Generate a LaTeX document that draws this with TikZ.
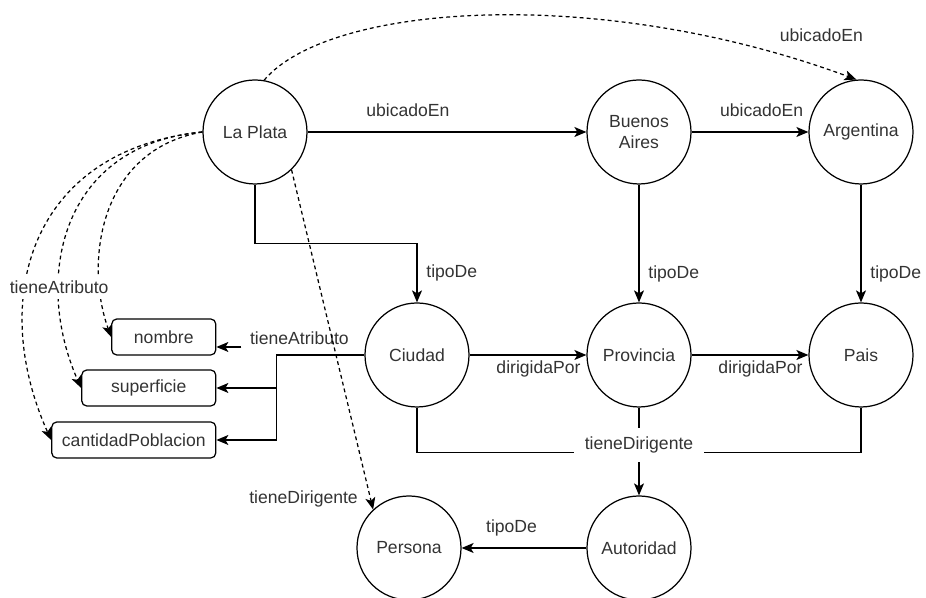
\documentclass[tikz,border=0pt]{standalone}
\usepackage{fontspec}
\setmainfont{Liberation Sans}
\usepackage{tikz}
\usetikzlibrary{shapes.geometric, arrows.meta, positioning}
\tikzstyle{concept} = [circle, draw, line width=0.7pt, minimum size=2.08cm, inner sep=0pt, align=center, text=black!80]
\tikzstyle{attrbox} = [rectangle, draw, rounded corners=1mm, line width=0.7pt, minimum height=0.72cm, text=black!80]
\tikzstyle{lbl} = [text=black!80, inner sep=3pt]
\tikzstyle{arrow} = [line width=0.7pt,-{Stealth[length=2.4mm,width=2mm,inset=0.6mm]}]
\tikzstyle{dasharrow} = [arrow, dash pattern=on 2.2pt off 1.8pt]

\begin{document}
\begin{tikzpicture}[node distance=4.46cm, font=\fontsize{10}{12}\selectfont]
\useasboundingbox (0,0) rectangle (18.52,11.96);
\node (laplata) [concept] at (5.10,9.32) {La Plata};
\node (buenosaires) [concept, right of=laplata, xshift=3.22cm] {Buenos\\Aires};
\node (argentina) [concept, right of=buenosaires, xshift=-0.02cm] {Argentina};
\node (ciudad) [concept, below of=laplata, xshift=3.24cm] {Ciudad};
\node (provincia) [concept, below of=buenosaires] {Provincia};
\node (pais) [concept, below of=argentina] {Pais};
\node (persona) [concept, below of=ciudad, yshift=0.6cm, xshift=-0.16cm] {Persona};
\node (autoridad) [concept, below of=provincia, yshift=0.6cm] {Autoridad};

\node (nombre) [attrbox, minimum width=2.08cm, left=2.96cm of ciudad, yshift=0.36cm] {nombre};
\node (superficie) [attrbox, minimum width=2.68cm, left=2.96cm of ciudad, yshift=-0.66cm] {superficie};
\node (cantidad) [attrbox, minimum width=3.28cm, left=2.96cm of ciudad, yshift=-1.70cm] {cantidadPoblacion};

\coordinate (attr) at ([xshift=-1.76cm]ciudad.west);
\coordinate (nombrein) at ([xshift=0.5cm, yshift=-0.2cm]nombre.east);
\coordinate (dirig) at ([yshift=-0.9cm]provincia.south);

% ubicadoEn
\draw [arrow] (laplata) -- node[lbl, pos=0.36, above, yshift=0.18cm] {ubicadoEn} (buenosaires);
\draw [arrow] (buenosaires) -- node[lbl, pos=0.6, above, yshift=0.18cm] {ubicadoEn} (argentina);
\draw [dasharrow] (laplata.80) .. controls +(1.3cm,1.54cm) and +(-5.14cm,1.9cm) .. node[lbl, pos=0.93, xshift=0.38cm, yshift=0.52cm] {ubicadoEn} (argentina.95);

% tipoDe
\draw [arrow] (laplata.south) -- ++(0,-1.18cm) -| node[lbl, pos=0.75, right, xshift=2pt] {tipoDe} (ciudad.north);
\draw [arrow] (buenosaires) -- node[lbl, pos=0.76, right, xshift=2pt] {tipoDe} (provincia);
\draw [arrow] (argentina) -- node[lbl, pos=0.76, right, xshift=2pt] {tipoDe} (pais);
\draw [arrow] (autoridad) -- node[lbl, pos=0.6, above, yshift=0.12cm] {tipoDe} (persona);

% dirigidaPor
\draw [arrow] (ciudad) -- node[lbl, pos=1, below left] {dirigidaPor} (provincia);
\draw [arrow] (provincia) -- node[lbl, pos=1, below left] {dirigidaPor} (pais);

% tieneAtributo
\draw [line width=0.7pt] (ciudad.west) -- node[lbl, xshift=-0.42cm, yshift=0.34cm] {tieneAtributo} (attr);
\draw [arrow] (attr) |- (cantidad.east);
\draw [arrow] (attr) |- (superficie.east);
\draw [arrow] (nombrein) -- (nombre.east |- nombrein);
\draw [dasharrow] (laplata.west) .. controls +(-2.06cm,-0.36cm) and +(-0.54cm,1.5cm) .. (nombre.west);
\draw [dasharrow] (laplata.west) .. controls +(-3.46cm,-0.36cm) and +(-1.26cm,2.8cm) .. (cantidad.west);
\draw [dasharrow] (laplata.west) .. controls +(-2.86cm,-0.26cm) and +(-0.96cm,2.16cm) .. node[lbl, fill=white, pos=0.7] {tieneAtributo} (superficie.west);

% tieneDirigente
\draw [dasharrow] (laplata.-46) -- node[lbl, pos=0.97, left, xshift=-4pt] {tieneDirigente} (persona.133);
\draw [line width=0.7pt] (ciudad.south) |- (dirig);
\draw [line width=0.7pt] (pais.south) |- (dirig);
\draw [arrow] (provincia) -- node[lbl, fill=white, pos=0.43, inner xsep=6pt, inner ysep=5pt] {tieneDirigente} (autoridad);
\end{tikzpicture}
\end{document}
